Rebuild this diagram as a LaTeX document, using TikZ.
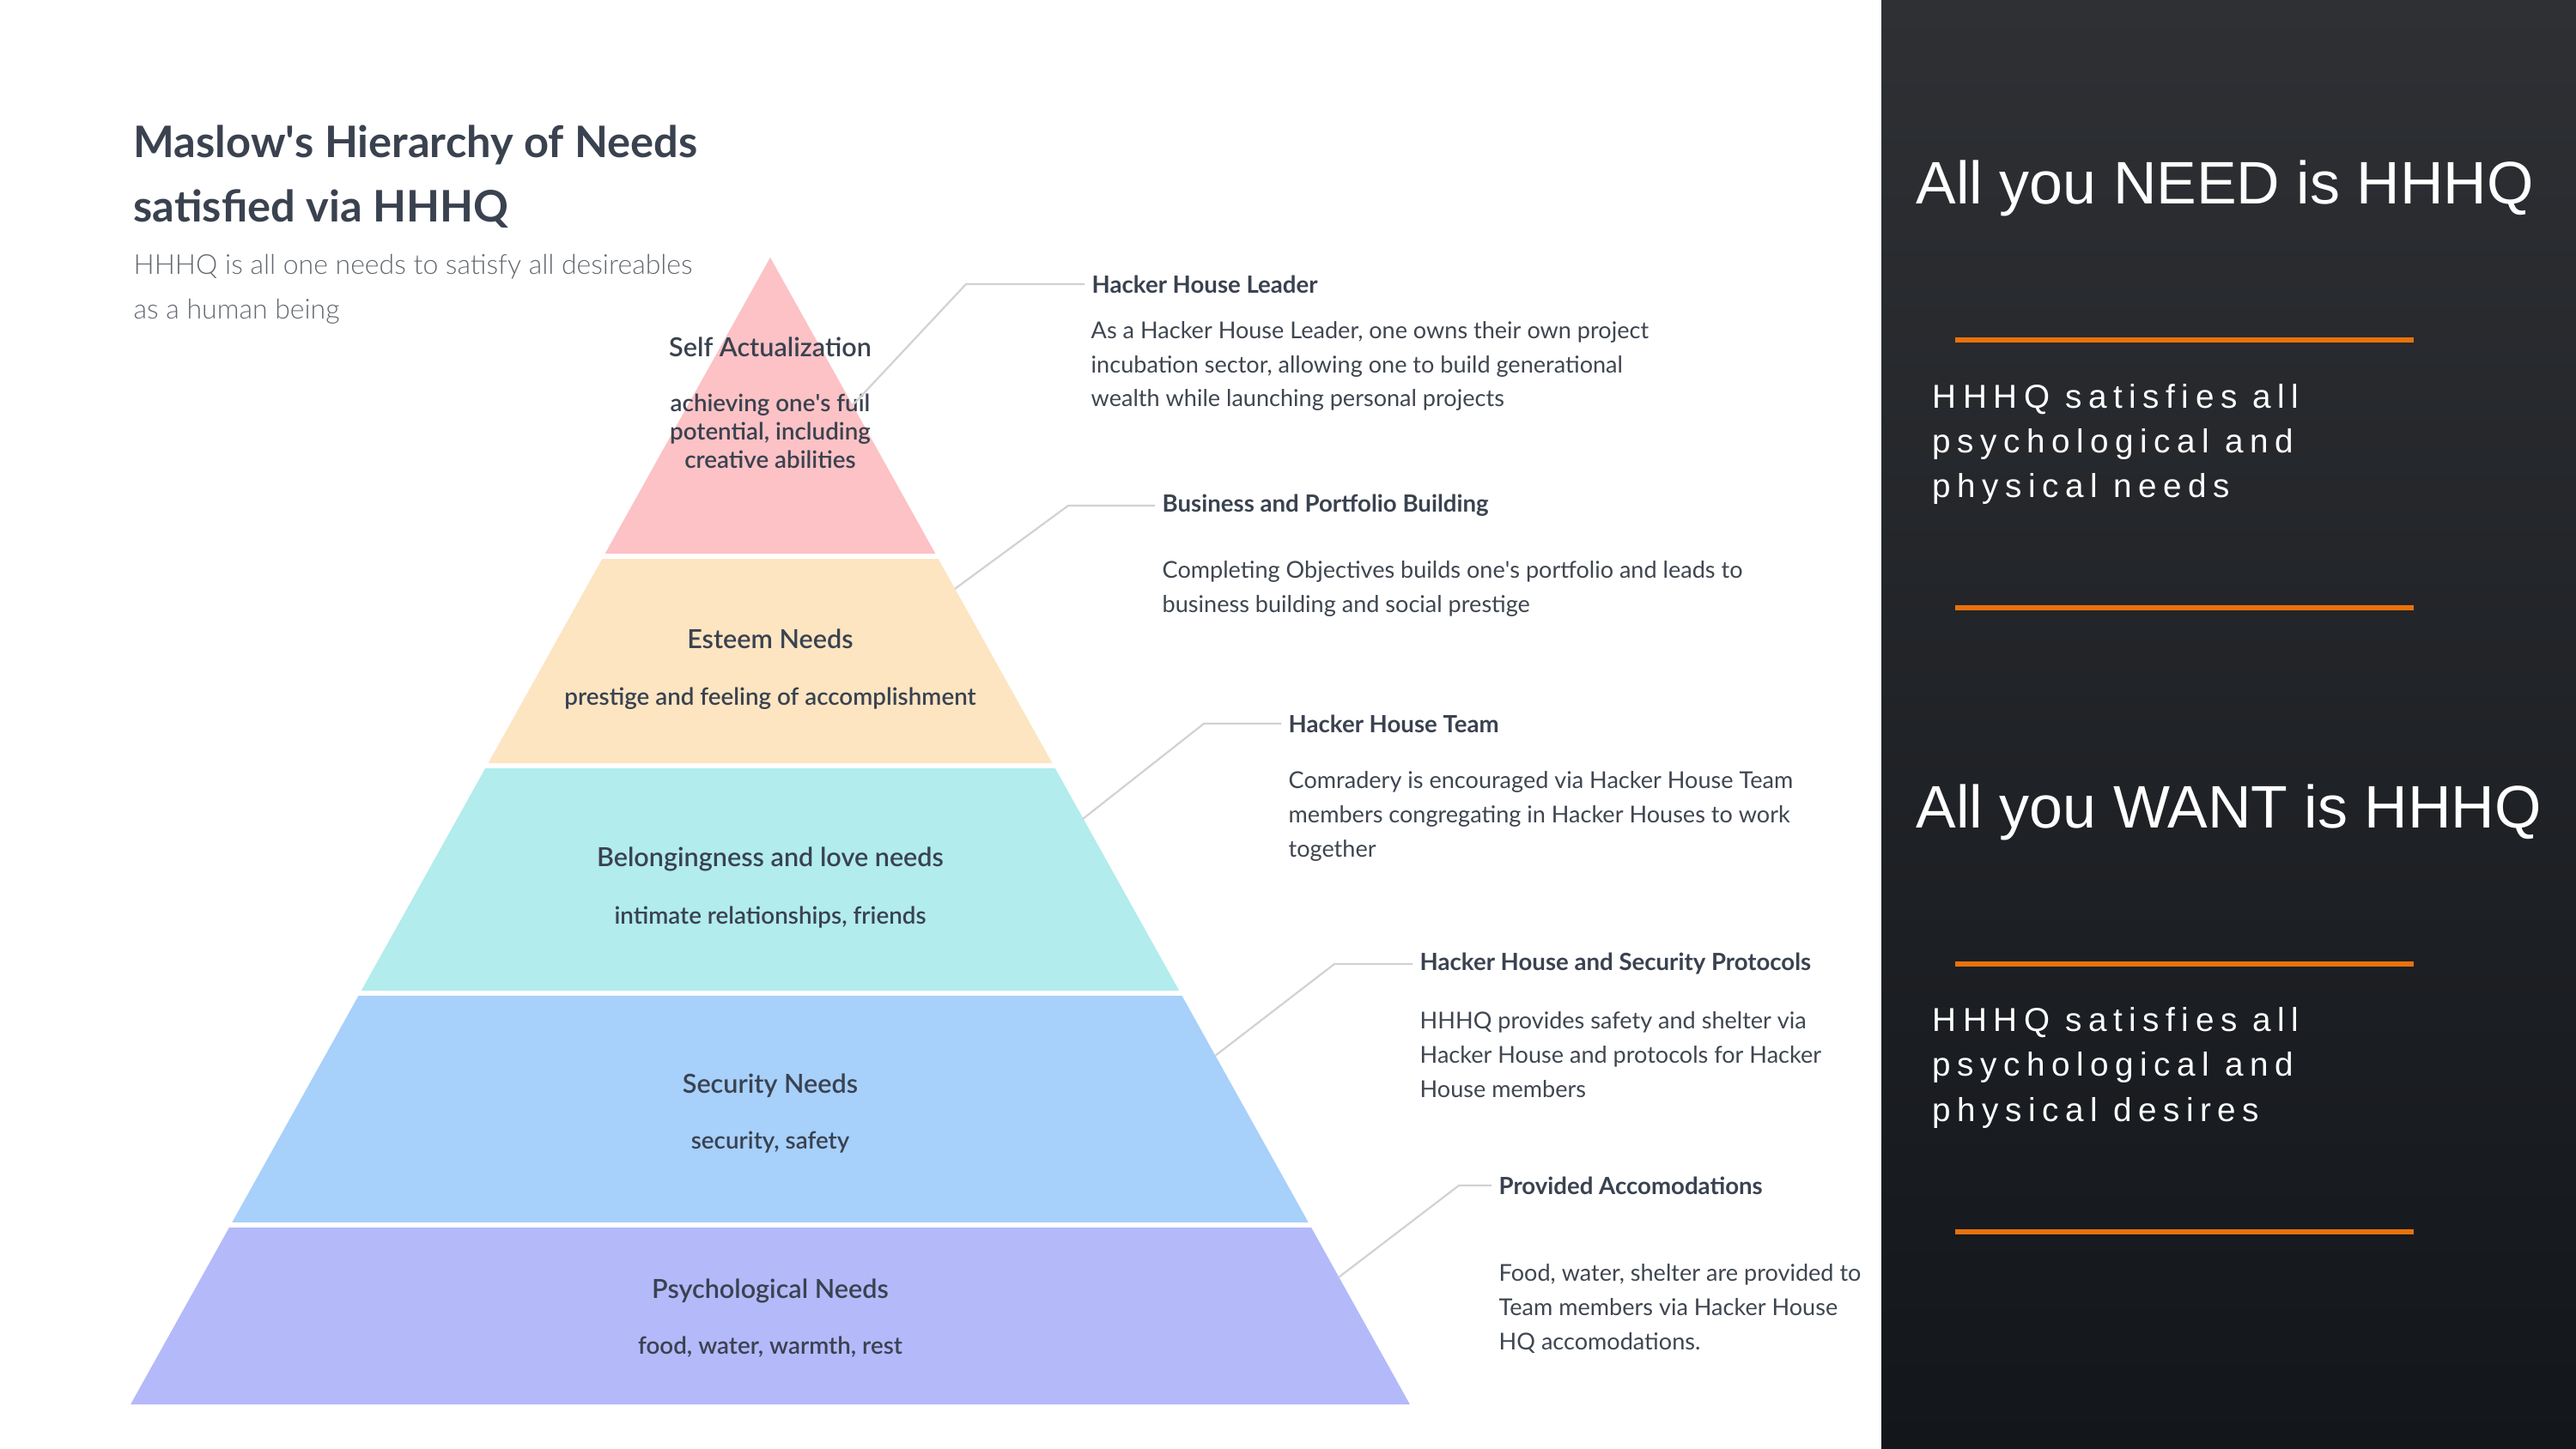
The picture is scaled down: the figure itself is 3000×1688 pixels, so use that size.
\documentclass[tikz,border=0pt]{standalone}
\usepackage{fontspec}
\setmainfont{Lato}
\newfontfamily\lightfont{Lato Light}
\newfontfamily\semifont{Lato Semibold}
\newfontfamily\panelfont{Liberation Sans}
\newfontfamily\trackfont{Liberation Sans}[LetterSpace=19.5]
\usetikzlibrary{calc}

\definecolor{ink}{HTML}{3A4250}
\definecolor{bodyink}{HTML}{3F4650}
\definecolor{softink}{HTML}{646971}
\definecolor{wire}{HTML}{D2D2D2}
\definecolor{tierA}{HTML}{FCC2C5}
\definecolor{tierB}{HTML}{FDE5C2}
\definecolor{tierC}{HTML}{B2ECEC}
\definecolor{tierD}{HTML}{A7D0FA}
\definecolor{tierE}{HTML}{B4B9FA}
\definecolor{panelTop}{HTML}{2E3034}
\definecolor{panelBot}{HTML}{13161A}
\definecolor{accent}{HTML}{E8720C}

\newcommand{\apos}{\textquotesingle}

% multi-line nodes are placed by the baseline of their last line
\tikzset{
  tiertitle/.style={anchor=base, inner sep=0, text=ink, font=\semifont\fontsize{8.7}{10}\selectfont},
  tiersub/.style={anchor=base, inner sep=0, text=ink, align=center, font=\semifont\fontsize{7.9}{9.53}\selectfont},
  head/.style={anchor=west, inner xsep=0.8mm, inner ysep=0, text=ink, font=\bfseries\fontsize{7.85}{11.4}\selectfont},
  body/.style={anchor=base west, inner sep=0, text=bodyink, align=left, font=\fontsize{7.7}{11.38}\selectfont},
  wireline/.style={draw=wire, line width=0.22mm},
  rule/.style={draw=accent, line width=0.6mm},
  bigclaim/.style={anchor=base west, inner sep=0, text=white, font=\panelfont\fontsize{19.9}{22}\selectfont},
  smallclaim/.style={anchor=base west, inner sep=0, text=white, align=left, font=\trackfont\fontsize{11}{14.8}\selectfont},
}

\begin{document}
\begin{tikzpicture}[x=0.1mm, y=-0.1mm]
\useasboundingbox (0,0) rectangle (3000,1688);
\fill[white] (0,0) rectangle (3000,1688);

% dark side panel
\shade[top color=panelTop, bottom color=panelBot] (2191,0) rectangle (3000,1688);

% pyramid tiers
\fill[tierA] (897,300) -- (1089.4,645) -- (704.6,645) -- cycle;
\fill[tierB] (701.3,651) -- (1092.7,651) -- (1225.4,889) -- (568.6,889) -- cycle;
\fill[tierC] (565.2,895) -- (1228.8,895) -- (1373.2,1154) -- (420.8,1154) -- cycle;
\fill[tierD] (417.5,1160) -- (1376.5,1160) -- (1523.7,1424) -- (270.3,1424) -- cycle;
\fill[tierE] (266.9,1430) -- (1527.1,1430) -- (1641.9,1636) -- (152.1,1636) -- cycle;

% heading
\node[anchor=base west, inner sep=0, text=ink, align=left,
      font=\bfseries\fontsize{14.4}{21.6}\selectfont] (title) at (155,259)
  {Maslow\apos s Hierarchy of Needs\\satisfied via HHHQ};
\node[anchor=base west, inner sep=0, text=softink, align=left,
      font=\lightfont\fontsize{9.1}{14.8}\selectfont] (subtitle) at (155,372)
  {HHHQ is all one needs to satisfy all desireables\\as a human being};

% tier labels
\node[tiertitle] (t1) at (897,416) {Self Actualization};
\node[tiersub] (s1) at (897,546) {achieving one\apos s fuil\\potential, including\\creative abilities};
\node[tiertitle] (t2) at (897,755) {Esteem Needs};
\node[tiersub] (s2) at (897,821) {prestige and feeling of accomplishment};
\node[tiertitle] (t3) at (897,1009) {Belongingness and love needs};
\node[tiersub] (s3) at (897,1076) {intimate relationships, friends};
\node[tiertitle] (t4) at (897,1273) {Security Needs};
\node[tiersub] (s4) at (897,1338) {security, safety};
\node[tiertitle] (t5) at (897,1512) {Psychological Needs};
\node[tiersub] (s5) at (897,1577) {food, water, warmth, rest};

% callout headings and texts
\node[head] (h1) at (1263,331) {Hacker House Leader};
\node[body] (b1) at (1270,474) {As a Hacker House Leader, one owns their own project\\incubation sector, allowing one to build generational\\wealth while launching personal projects};
\node[head] (h2) at (1345,589) {Business and Portfolio Building};
\node[body] (b2) at (1353,713) {Completing Objectives builds one\apos s portfolio and leads to\\business building and social prestige};
\node[head] (h3) at (1492,843) {Hacker House Team};
\node[body] (b3) at (1500,998) {Comradery is encouraged via Hacker House Team\\members congregating in Hacker Houses to work\\together};
\node[head] (h4) at (1645,1123) {Hacker House and Security Protocols};
\node[body] (b4) at (1653,1278) {HHHQ provides safety and shelter via\\Hacker House and protocols for Hacker\\House members};
\node[head] (h5) at (1737,1381) {Provided Accomodations};
\node[body] (b5) at (1745,1572) {Food, water, shelter are provided to\\Team members via Hacker House\\HQ accomodations.};

% callout anchors on the pyramid edge and elbows
\coordinate (e1) at (993,472);   \coordinate (k1) at (1125,331);
\coordinate (e2) at (1112,686);  \coordinate (k2) at (1244,589);
\coordinate (e3) at (1261,954);  \coordinate (k3) at (1402,843);
\coordinate (e4) at (1415,1230); \coordinate (k4) at (1554,1123);
\coordinate (e5) at (1559,1488); \coordinate (k5) at (1699,1381);
\draw[wireline] (e1) -- (k1) -- (h1.west);
\draw[wireline] (e2) -- (k2) -- (h2.west);
\draw[wireline] (e3) -- (k3) -- (h3.west);
\draw[wireline] (e4) -- (k4) -- (h4.west);
\draw[wireline] (e5) -- (k5) -- (h5.west);

% side panel content
\node[bigclaim] (need) at (2231,238) {All you NEED is HHHQ};
\coordinate (r1a) at (2277,396); \coordinate (r1b) at (2811,396);
\draw[rule] (r1a) -- (r1b);
\node[smallclaim] (needs) at (2250,580) {HHHQ satisfies all\\psychological and\\physical needs};
\coordinate (r2a) at (2277,708); \coordinate (r2b) at (2811,708);
\draw[rule] (r2a) -- (r2b);

\node[bigclaim] (want) at (2231,964) {All you WANT is HHHQ};
\coordinate (r3a) at (2277,1123); \coordinate (r3b) at (2811,1123);
\draw[rule] (r3a) -- (r3b);
\node[smallclaim] (wants) at (2250,1306) {HHHQ satisfies all\\psychological and\\physical desires};
\coordinate (r4a) at (2277,1435); \coordinate (r4b) at (2811,1435);
\draw[rule] (r4a) -- (r4b);
\end{tikzpicture}
\end{document}
